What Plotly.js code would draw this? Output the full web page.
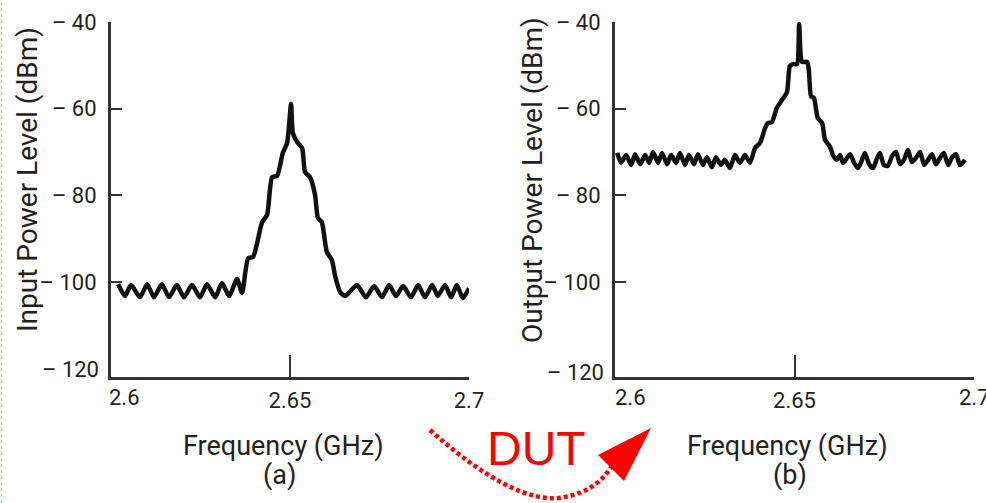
<!DOCTYPE html>
<html>
<head>
<meta charset="utf-8">
<script src="https://cdn.plot.ly/plotly-3.0.1.min.js"></script>
<style>
html,body{margin:0;padding:0;background:#fff;}
#chart{width:986px;height:503px;}
</style>
</head>
<body>
<div id="chart"></div>
<script>
// ---- data ----
const inFreq = [2.6020,2.6039,2.6056,2.6081,2.6101,2.6120,2.6142,2.6162,2.6184,2.6204,2.6226,2.6249,2.6268,2.6291,2.6310,2.6330,2.6352,2.6366,2.6383,2.6397,2.6422,2.6436,2.6450,2.6464,2.6480,2.6492,2.6503,2.6508,2.6520,2.6534,2.6542,2.6556,2.6570,2.6578,2.6589,2.6603,2.6617,2.6626,2.6640,2.6654,2.6687,2.6712,2.6735,2.6757,2.6777,2.6796,2.6816,2.6838,2.6858,2.6877,2.6897,2.6913,2.6933,2.6950,2.6966,2.6983,2.7000];
const inPower = [-100.5,-103.2,-100.7,-103.5,-100.5,-103.5,-100.5,-103.5,-100.7,-103.5,-100.7,-103.5,-100.5,-103.5,-100.2,-103.2,-99.3,-102.5,-94.5,-94.2,-86.2,-84.5,-75.8,-75.5,-70.2,-67.9,-58.9,-65.6,-67.7,-69.1,-74.6,-75.8,-79.9,-85.2,-86.2,-93.1,-94.9,-98.6,-102.3,-103.2,-100.7,-103.5,-100.9,-103.5,-100.7,-103.2,-100.9,-103.5,-100.7,-103.5,-100.7,-103.2,-100.7,-103.5,-100.7,-103.7,-101.4];

const outFreq = [2.6006,2.6017,2.6031,2.6045,2.6056,2.6070,2.6084,2.6095,2.6106,2.6120,2.6131,2.6145,2.6156,2.6170,2.6181,2.6195,2.6206,2.6220,2.6231,2.6245,2.6256,2.6270,2.6281,2.6295,2.6306,2.6320,2.6334,2.6348,2.6362,2.6376,2.6390,2.6404,2.6418,2.6426,2.6437,2.6451,2.6465,2.6479,2.6487,2.6496,2.6507,2.6513,2.6521,2.6535,2.6540,2.6546,2.6554,2.6565,2.6577,2.6585,2.6599,2.6607,2.6618,2.6627,2.6635,2.6646,2.6655,2.6666,2.6677,2.6688,2.6696,2.6708,2.6719,2.6730,2.6738,2.6749,2.6760,2.6772,2.6783,2.6794,2.6805,2.6816,2.6827,2.6838,2.6850,2.6861,2.6872,2.6883,2.6894,2.6905,2.6916,2.6928,2.6939,2.6950,2.6961,2.6975];
const outPower = [-70.2,-72.5,-70.7,-73.0,-70.5,-72.8,-70.7,-72.5,-70.0,-72.5,-70.2,-72.8,-70.7,-72.5,-70.2,-73.0,-70.7,-72.8,-70.5,-73.0,-71.2,-73.5,-71.2,-73.0,-71.8,-73.7,-70.7,-72.5,-70.7,-72.5,-69.1,-67.9,-64.5,-63.3,-63.1,-59.8,-58.0,-56.2,-50.2,-49.7,-49.7,-40.5,-49.2,-49.2,-51.1,-57.1,-57.5,-62.2,-63.3,-67.2,-68.8,-70.7,-71.8,-70.7,-72.5,-71.4,-70.5,-72.5,-73.7,-71.8,-70.2,-72.8,-73.7,-71.4,-70.2,-73.0,-73.2,-70.9,-70.0,-72.8,-71.8,-69.5,-72.3,-71.4,-70.0,-73.0,-71.8,-70.5,-72.8,-71.4,-70.2,-73.0,-71.2,-70.5,-73.0,-71.8];

const yTickVals = [-40,-60,-80,-100];
const yTickText = ['\u2013 40','\u2013 60','\u2013 80','\u2013 100'];
const yBottomLabel = '\u2013 120';
const xTickVals = [2.65, 2.7];
const xTickTextA = ['2.65','2.7'];
const xTickTextB = ['2.65',''];
const xFirstLabel = '2.6';
const xLastLabel = '2.7';
const xRange = [2.6, 2.7];
const yRange = [-121.9, -40];

// ---- layout helpers (pixel -> paper, margins are 0) ----
const W = 986, H = 503;
const px = x => x / W;
const py = y => 1 - y / H;
const P = (x, y) => px(x).toFixed(5) + ',' + py(y).toFixed(5);

const narrow = "Roboto,'Liberation Sans',sans-serif";
const txt = '#231f20';
const axCol = '#333333';
const TICK = 22, TITLE = 27;

function xAxis(dom, anchor, ticktext) {
  return {
    domain: dom, range: xRange, anchor: anchor, showgrid: false, zeroline: false,
    showline: true, linecolor: axCol, linewidth: 3,
    ticks: 'inside', ticklen: 22, tickwidth: 2, tickcolor: axCol,
    tickvals: xTickVals, ticktext: ticktext, ticklabelstandoff: 2,
    tickfont: {family: narrow, size: TICK, color: txt}, fixedrange: true
  };
}
function yAxis(anchor) {
  return {
    domain: [py(377), py(22)], range: yRange, anchor: anchor, showgrid: false, zeroline: false,
    showline: true, linecolor: axCol, linewidth: 3,
    ticks: 'inside', ticklen: 11, tickwidth: 2, tickcolor: axCol,
    tickvals: yTickVals, ticktext: yTickText, ticklabelstandoff: 7,
    tickfont: {family: narrow, size: TICK, color: txt}, fixedrange: true
  };
}

const lineStyle = {color: '#111111', width: 4.5, shape: 'spline', smoothing: 0.6};
const traces = [
  {x: inFreq, y: inPower, xaxis: 'x', yaxis: 'y', mode: 'lines', line: lineStyle, hoverinfo: 'skip', showlegend: false},
  {x: outFreq, y: outPower, xaxis: 'x2', yaxis: 'y2', mode: 'lines', line: lineStyle, hoverinfo: 'skip', showlegend: false}
];

function ann(text, x, y, size, opts) {
  return Object.assign({
    text: text, xref: 'paper', yref: 'paper', x: px(x), y: py(y),
    xanchor: 'center', yanchor: 'middle', showarrow: false,
    font: {family: narrow, size: size, color: txt}
  }, opts || {});
}

const annotations = [
  ann('Input Power Level (dBm)', 27, 180, 28, {textangle: -90}),
  ann('Output Power Level (dBm)', 532, 180, 28, {textangle: -90}),
  ann('Frequency (GHz)', 283, 446, TITLE),
  ann('(a)', 279, 475, TITLE),
  ann('Frequency (GHz)', 787, 446, TITLE),
  ann('(b)', 790, 475, TITLE),
  ann(xFirstLabel, 107, 397, TICK, {xanchor: 'left'}),
  ann(xFirstLabel, 613, 397, TICK, {xanchor: 'left'}),
  ann(xLastLabel, 974, 397, TICK),
  ann(yBottomLabel, 101, 369, TICK, {xanchor: 'right'}),
  ann(yBottomLabel, 606, 372, TICK, {xanchor: 'right'}),
  ann('DUT', 536, 448, 48, {font: {family: "'Liberation Sans',Arial,sans-serif", size: 48, color: '#ff0000'}})
];

const shapes = [
  {type: 'line', xref: 'paper', yref: 'paper', x0: px(1.5), x1: px(1.5), y0: 0, y1: 1,
   line: {color: '#a8d77a', width: 1.5, dash: 'dot'}},
  {type: 'path', xref: 'paper', yref: 'paper',
   path: 'M' + P(430,430) + ' C' + P(480,475) + ' ' + P(530,505) + ' ' + P(565,497) +
         ' C' + P(590,492) + ' ' + P(603,480) + ' ' + P(612,466),
   line: {color: '#ff0000', width: 4.5, dash: '4px,3px'}},
  {type: 'path', xref: 'paper', yref: 'paper',
   path: 'M' + P(651,428) + ' L' + P(598,455) + ' L' + P(624,481) + ' Z',
   fillcolor: '#ff0000', line: {width: 0}}
];

const layout = {
  width: W, height: H, margin: {l: 0, r: 0, t: 0, b: 0, pad: 0},
  paper_bgcolor: '#ffffff', plot_bgcolor: 'rgba(0,0,0,0)',
  xaxis: xAxis([px(111), px(469)], 'y', xTickTextA),
  yaxis: yAxis('x'),
  xaxis2: xAxis([px(615), px(974)], 'y2', xTickTextB),
  yaxis2: yAxis('x2'),
  annotations: annotations, shapes: shapes, showlegend: false
};

Plotly.newPlot('chart', traces, layout, {staticPlot: true, displayModeBar: false});
</script>
</body>
</html>
